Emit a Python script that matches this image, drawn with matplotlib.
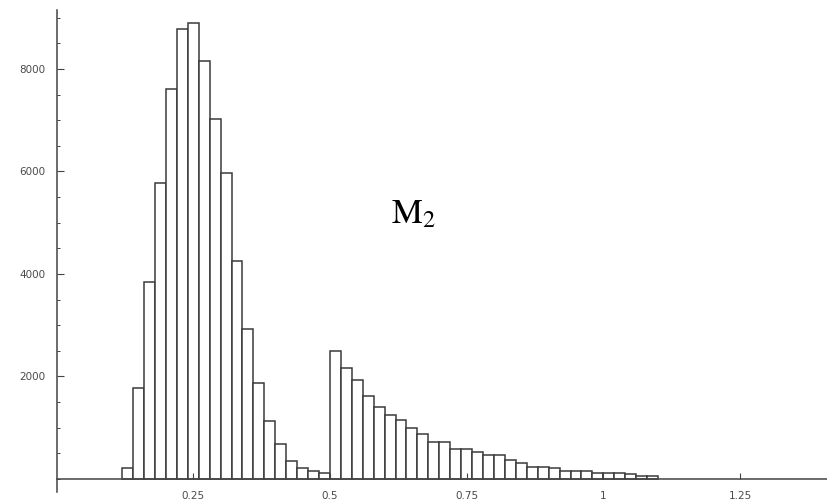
import numpy as np
import matplotlib
matplotlib.use('Agg')
import matplotlib.pyplot as plt
from matplotlib.ticker import MultipleLocator, FixedLocator

# histogram bins, width 0.02, starting at 0.12
bin_start = 0.12
bin_width = 0.02
counts = [210, 1770, 3850, 5770, 7600, 8780, 8900, 8160, 7020, 5980,
          4250, 2920, 1870, 1140, 680, 360, 210, 160, 110,
          2500, 2175, 1925, 1610, 1410, 1250, 1150, 990, 885, 730, 730,
          580, 580, 520, 465, 465, 370, 320, 235, 235, 210,
          160, 160, 160, 110, 110, 110, 105, 60, 55]
x_ticks = [0.25, 0.5, 0.75, 1, 1.25]
x_labels = ['0.25', '0.5', '0.75', '1', '1.25']
y_ticks = [2000, 4000, 6000, 8000]
y_labels = ['2000', '4000', '6000', '8000']
label = r'$\mathrm{M}_2$'

plt.rcParams['mathtext.fontset'] = 'stix'

fig = plt.figure(figsize=(8.28, 5.04), dpi=100)
ax = fig.add_axes([56.6/828, 12/504, 1 - 56.6/828, 482/504])

lefts = bin_start + bin_width * np.arange(len(counts))
ax.bar(lefts, counts, width=bin_width, align='edge', facecolor='white',
       edgecolor='#3a3a3a', linewidth=1.1)

ax.set_xlim(0, 1.411)
ax.set_ylim(-254, 9151)

for s in ['top', 'right']:
    ax.spines[s].set_visible(False)
ax.spines['left'].set_position(('data', 0))
ax.spines['bottom'].set_position(('data', 0))
for s in ['left', 'bottom']:
    ax.spines[s].set_color('#444444')
    ax.spines[s].set_linewidth(1.1)

ax.xaxis.set_major_locator(FixedLocator(x_ticks))
ax.set_xticklabels(x_labels)
ax.yaxis.set_major_locator(FixedLocator(y_ticks))
ax.set_yticklabels(y_labels)
ax.yaxis.set_minor_locator(MultipleLocator(500))

ax.tick_params(axis='x', direction='in', length=4, width=0.8, color='#444444',
               labelsize=7.5, labelcolor='#4a4a4a', pad=9)
ax.tick_params(axis='y', which='major', direction='in', length=5, width=0.8,
               color='#444444', labelsize=7.5, labelcolor='#4a4a4a', pad=8)
ax.tick_params(axis='y', which='minor', direction='in', length=2.5, width=0.7,
               color='#444444')

ax.text(0.612, 4990, label, fontsize=25, color='black', ha='left',
        va='baseline')

fig.savefig('out.png', dpi=100)
